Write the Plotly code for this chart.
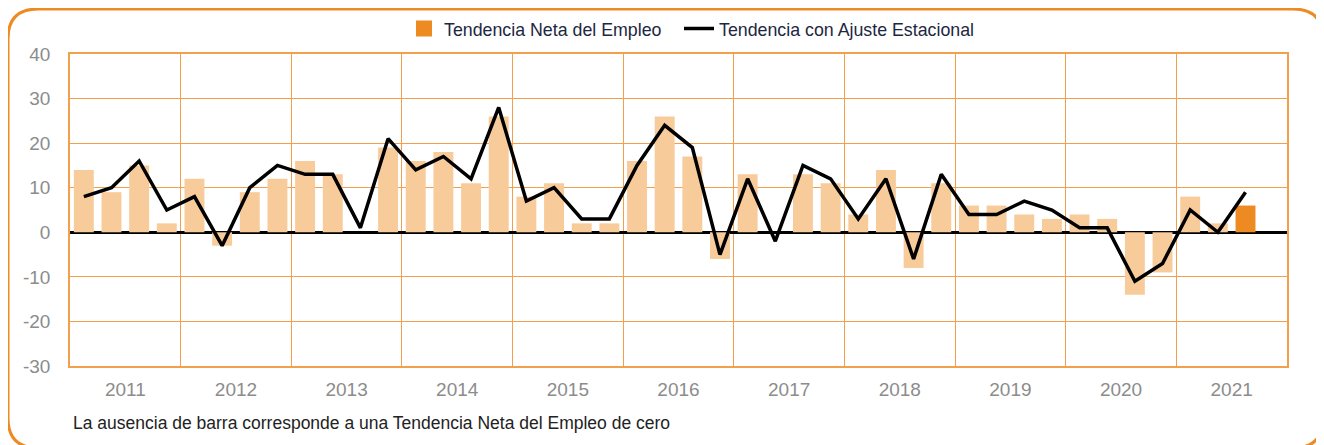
import plotly.graph_objects as go

years = list(range(2011, 2022))
quarters = ["Q1", "Q2", "Q3", "Q4"]

# Tendencia Neta del Empleo (bars), 2011Q1 .. 2021Q3
neta = [14, 9, 15, 2,
        12, -3, 9, 12,
        16, 13, 0, 19,
        16, 18, 11, 26,
        8, 11, 2, 2,
        16, 26, 17, -6,
        13, 0, 13, 11,
        4, 14, -8, 11,
        6, 6, 4, 3,
        4, 3, -14, -9,
        8, 2, 6]

# Tendencia con Ajuste Estacional (line)
ajuste = [8, 10, 16, 5,
          8, -3, 10, 15,
          13, 13, 1, 21,
          14, 17, 12, 28,
          7, 10, 3, 3,
          15, 24, 19, -5,
          12, -2, 15, 12,
          3, 12, -6, 13,
          4, 4, 7, 5,
          1, 1, -11, -7,
          5, 0, 9]

y_ticks = [-30, -20, -10, 0, 10, 20, 30, 40]

labels = [f"{y} {q}" for y in years for q in quarters][:len(neta)]
x = list(range(len(neta)))

ORANGE = "#EE8A22"
LIGHT = "#F8CB9B"
GRID = "#F3A04C"

# the page body has an 8px margin, so work in page pixels minus 8
OFF = 8
W, H = 1324 - OFF, 445 - OFF
ML, MT = 70 - OFF, 54 - OFF
PW, PH = 1217, 312
MR, MB = W - ML - PW, H - MT - PH


def px(v):
    return (v - OFF - ML) / PW


def py(v):
    return (MT + PH - (v - OFF)) / PH


def cx(v):
    return (v - OFF) / W


def cy(v):
    return 1 - (v - OFF) / H


fig = go.Figure()

# legend proxy for the bar series (square like the reference)
fig.add_trace(go.Scatter(
    x=[None], y=[None], mode="markers", name="Tendencia Neta del Empleo",
    marker=dict(symbol="square", size=20, color=ORANGE), legend="legend"))

fig.add_trace(go.Bar(
    x=x[:-1], y=neta[:-1], marker_color=LIGHT, marker_line_width=0,
    showlegend=False, hovertext=labels[:-1]))
fig.add_trace(go.Bar(
    x=x[-1:], y=neta[-1:], marker_color=ORANGE, marker_line_width=0,
    showlegend=False, hovertext=labels[-1:]))

fig.add_trace(go.Scatter(
    x=x, y=ajuste, mode="lines", name="Tendencia con Ajuste Estacional",
    line=dict(color="black", width=3.5), hovertext=labels, legend="legend2"))

nslots = len(years) * 4
fig.update_xaxes(
    range=[-0.5, nslots - 0.5],
    tickmode="array",
    tickvals=[i * 4 + 1.5 for i in range(len(years))],
    ticktext=[str(y) for y in years],
    showgrid=False, ticks="", zeroline=False,
    minor=dict(tickmode="array",
               tickvals=[i * 4 - 0.5 for i in range(1, len(years))],
               showgrid=True, gridcolor=GRID, gridwidth=1, ticks=""),
    showline=True, mirror=True, linecolor=GRID, linewidth=1.5,
    tickfont=dict(size=19, color="#8c8c8c"),
    ticklabelstandoff=5, automargin=False,
)
fig.update_yaxes(
    range=[-30, 40], tickmode="array",
    tickvals=y_ticks, ticktext=[str(v) for v in y_ticks],
    gridcolor=GRID, gridwidth=1,
    zeroline=True, zerolinecolor="black", zerolinewidth=3,
    showline=True, mirror=True, linecolor=GRID, linewidth=1.5,
    tickfont=dict(size=19, color="#8c8c8c"),
    ticklabelstandoff=14, automargin=False,
)

# rounded orange frame around the whole chart (bottom edge runs off the page)
x0, x1 = px(8), px(1323)
y0, y1 = py(9), py(448)
rx, ry = 30 / PW, 30 / PH
path = (f"M {x0 + rx},{y0} L {x1 - rx},{y0} Q {x1},{y0} {x1},{y0 - ry} "
        f"L {x1},{y1 + ry} Q {x1},{y1} {x1 - rx},{y1} "
        f"L {x0 + rx},{y1} Q {x0},{y1} {x0},{y1 + ry} "
        f"L {x0},{y0 - ry} Q {x0},{y0} {x0 + rx},{y0} Z")

legend_style = dict(orientation="h", xref="container", yref="container",
                    xanchor="left", yanchor="middle", y=cy(29),
                    font=dict(size=17.8, color="#1d2742"),
                    bgcolor="rgba(0,0,0,0)", itemwidth=30)

fig.update_layout(
    width=W, height=H,
    margin=dict(l=ML, r=MR, t=MT, b=MB, autoexpand=False),
    paper_bgcolor="white", plot_bgcolor="white",
    font=dict(family="Liberation Sans, Arial, sans-serif"),
    barmode="overlay", bargap=0.28,
    showlegend=True,
    legend=dict(x=cx(404), **legend_style),
    legend2=dict(x=cx(679), **legend_style),
    shapes=[dict(type="path", xref="paper", yref="paper", path=path,
                 line=dict(color=ORANGE, width=3), layer="below")],
    annotations=[dict(
        text="La ausencia de barra corresponde a una Tendencia Neta del Empleo de cero",
        xref="paper", yref="paper", x=px(71), y=py(423),
        xanchor="left", yanchor="middle", showarrow=False,
        font=dict(size=17.5, color="#222222"))],
)

fig.write_html("out.html")
